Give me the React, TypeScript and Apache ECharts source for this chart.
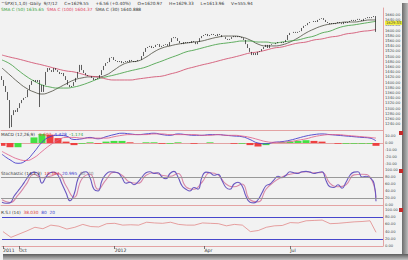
import { useEffect, useRef } from 'react';
import * as echarts from 'echarts';

// ---- price data (closes, one per bar) ----
const closes: number[] = [
  1410, 1387, 1364, 1333, 1229, 1275, 1294, 1287, 1302, 1321,
  1333, 1341, 1344, 1372, 1391, 1406, 1410, 1402, 1410, 1391,
  1364, 1391, 1441, 1456, 1448, 1441, 1456, 1448, 1441, 1433,
  1437, 1425, 1410, 1391, 1383, 1387, 1402, 1418, 1441, 1468,
  1448, 1437, 1429, 1425, 1425, 1418, 1410, 1414, 1418, 1429,
  1448, 1464, 1475, 1479, 1495, 1498, 1487, 1483, 1479, 1483,
  1475, 1479, 1483, 1479, 1487, 1483, 1479, 1483, 1487, 1487,
  1502, 1518, 1533, 1537, 1541, 1533, 1537, 1545, 1548, 1537,
  1541, 1545, 1548, 1541, 1556, 1571, 1575, 1571, 1560, 1552,
  1548, 1556, 1552, 1556, 1552, 1560, 1556, 1548, 1556, 1571,
  1579, 1583, 1587, 1579, 1583, 1587, 1583, 1579, 1587, 1583,
  1575, 1575, 1568, 1564, 1568, 1575, 1579, 1575, 1579, 1575,
  1571, 1564, 1548, 1533, 1518, 1506, 1514, 1506, 1518, 1521,
  1529, 1537, 1545, 1533, 1545, 1548, 1548, 1552, 1556, 1556,
  1552, 1556, 1564, 1583, 1591, 1591, 1595, 1591, 1595, 1598,
  1610, 1618, 1621, 1629, 1633, 1633, 1637, 1633, 1641, 1645,
  1648, 1641, 1633, 1629, 1625, 1629, 1625, 1629, 1633, 1629,
  1625, 1633, 1629, 1633, 1637, 1641, 1637, 1641, 1645, 1641,
  1637, 1645, 1648, 1652, 1648, 1652, 1656,
  1629.55,
];
const firstOpen = 1425;
// [bar index, low, high] for bars with visible wicks
const wicks: [number, number, number][] = [
  [4, 1225, 1333],
  [19, 1306, 1410],
  [187, 1595, 1656],
];
const lastClose = 1629.55;

// ---- moving averages (one value every 4 bars, last one on the last bar) ----
const smaFast = [
  1456, 1429, 1402, 1379, 1364, 1356, 1364, 1379, 1395, 1410,
  1418, 1422, 1422, 1429, 1448, 1468, 1479, 1483, 1498, 1518,
  1533, 1541, 1548, 1552, 1556, 1560, 1568, 1575, 1579, 1579,
  1575, 1564, 1548, 1541, 1541, 1545, 1556, 1572, 1591, 1606,
  1618, 1625, 1629, 1633, 1633, 1637, 1641, 1640.89,
];
const smaMid = [
  1487, 1472, 1448, 1425, 1406, 1391, 1383, 1379, 1379, 1383,
  1391, 1402, 1414, 1422, 1429, 1437, 1445, 1452, 1460, 1472,
  1483, 1495, 1506, 1518, 1525, 1533, 1541, 1548, 1552, 1556,
  1560, 1560, 1556, 1556, 1552, 1556, 1560, 1564, 1572, 1579,
  1591, 1598, 1610, 1618, 1622, 1627, 1632, 1635.65,
];
const smaSlow = [
  1506, 1498, 1491, 1483, 1475, 1468, 1460, 1452, 1445, 1441,
  1433, 1425, 1422, 1414, 1410, 1410, 1410, 1414, 1418, 1422,
  1425, 1433, 1441, 1452, 1460, 1468, 1475, 1483, 1491, 1498,
  1506, 1514, 1518, 1525, 1533, 1537, 1545, 1552, 1556, 1564,
  1568, 1575, 1579, 1587, 1591, 1597, 1600, 1604.37,
];

// ---- MACD (one value every 4 bars) ----
const macdLine = [
  -16, -24, -29, -25, -13, 1, 9, 11, 10, 5,
  6, 8, 6, 9, 12, 14, 13, 12, 13, 14,
  12, 11, 13, 12, 11, 11, 12, 12, 11, 10,
  9, 5, 0, -1, 1, 2, 4, 7, 10, 12,
  13, 12, 11, 10, 9, 8, 7, 3,
];
const macdSignal = [
  -12, -18, -23, -25, -21, -12, -3, 4, 8, 8,
  7, 7, 7, 7, 9, 11, 12, 12, 12, 13,
  13, 12, 12, 12, 12, 11, 11, 12, 11, 11,
  10, 8, 5, 2, 1, 1, 2, 4, 6, 9,
  11, 12, 12, 11, 10, 9, 8, 7,
];

// ---- Stochastic %K (every 2 bars) and %D (every 4 bars) ----
const stochK = [
  8, 5, 6, 25, 40, 55, 72, 88, 94, 90,
  62, 80, 92, 94, 85, 60, 35, 12, 30, 75,
  92, 95, 78, 45, 40, 70, 88, 95, 94, 92,
  78, 62, 65, 58, 66, 80, 92, 95, 90, 92,
  80, 75, 90, 96, 80, 55, 45, 40, 50, 45,
  80, 94, 92, 85, 88, 70, 50, 45, 60, 65,
  55, 25, 8, 6, 15, 35, 55, 60, 72, 82,
  78, 85, 95, 92, 90, 95, 96, 94, 90, 93,
  95, 70, 52, 50, 58, 48, 65, 85, 94, 95,
  80, 82, 78, 62, 10.39,
];
const stochD = [
  15, 7, 28, 58, 88, 78, 82, 90, 55, 22,
  75, 88, 45, 72, 94, 85, 65, 62, 85, 92,
  85, 82, 90, 52, 45, 65, 92, 86, 60, 52,
  60, 15, 9, 45, 66, 80, 88, 92, 95, 92,
  93, 62, 52, 58, 86, 88, 80, 21,
];

// ---- RSI (every 4 bars) ----
const rsi = [
  40, 24, 33, 42, 52, 48, 58, 55, 47, 52,
  60, 54, 53, 62, 63, 58, 59, 58, 66, 64,
  63, 66, 60, 58, 58, 64, 63, 62, 56, 60,
  58, 40, 43, 52, 56, 57, 65, 64, 70, 71,
  72, 62, 63, 65, 67, 68, 70, 38.03,
];

// ---- axis ticks / labels ----
const priceTicks = [
  1240, 1260, 1280, 1300, 1320, 1340, 1360, 1380, 1400, 1420, 1440,
  1460, 1480, 1500, 1520, 1540, 1560, 1580, 1600, 1620, 1640, 1660,
];
const macdTicks = [-30, -20, -10, 0, 10];
const oscTicks = [0, 20, 40, 60, 80, 100];
const xTickLabels: [number, string][] = [
  [0, '2011'], [8, 'Oct'], [56, '2012'], [101, 'Apr'], [144, 'Jul'],
];
const categoryCount = 191;

const FONT = 'DejaVu Sans';
const AXIS_PINK = '#e3a3a3';

export default function App() {
  const ref = useRef<HTMLDivElement>(null);

  useEffect(() => {
    if (!ref.current) return;
    const chart = echarts.init(ref.current, undefined, { renderer: 'svg' });
    const N = closes.length;
    const categories = Array.from({ length: categoryCount }, (_, i) => String(i));
    const sampleIdx = (len: number, step: number) =>
      Array.from({ length: len }, (_, k) => (k === len - 1 ? N - 1 : k * step));

    const candles = closes.map((c, i) => {
      const o = i === 0 ? firstOpen : closes[i - 1];
      let lo = Math.min(o, c);
      let hi = Math.max(o, c);
      const w = wicks.find((x) => x[0] === i);
      if (w) { lo = w[1]; hi = w[2]; }
      return [o, c, lo, hi];
    });

    const idx4 = sampleIdx(smaFast.length, 4);
    const pair = (arr: number[], idx: number[]) => arr.map((v, k) => [idx[k], v]);
    const hist = macdLine.map((m, k) => m - macdSignal[k]);
    const histData = hist.map((h, k) => ({
      value: [idx4[k], h],
      itemStyle: { color: k > 0 && h >= hist[k - 1] ? '#44e044' : '#ee4040' },
    }));
    const idxK = sampleIdx(stochK.length, 2);
    const labelMap = new Map<number, string>(xTickLabels);

    const grids = [
      { left: 1, right: 25, top: 8, height: 122 },
      { left: 1, right: 25, top: 130, height: 38 },
      { left: 1, right: 25, top: 168, height: 39 },
      { left: 1, right: 25, top: 207, height: 39 },
    ];

    const xAxes = grids.map((_, g) => ({
      type: 'category' as const,
      gridIndex: g,
      data: categories,
      boundaryGap: true,
      axisLine: { show: true, lineStyle: { color: AXIS_PINK, width: 1 } },
      axisTick: g === 3
        ? { show: true, interval: (i: number) => labelMap.has(i), alignWithLabel: true, length: 3, lineStyle: { color: '#555', width: 0.8 } }
        : { show: false },
      axisLabel: g === 3
        ? {
            show: true,
            interval: (i: number) => labelMap.has(i),
            formatter: (_v: string, i: number) => labelMap.get(i) ?? '',
            align: 'left' as const,
            fontSize: 4.6,
            fontFamily: FONT,
            color: '#333',
            margin: 2,
          }
        : { show: false },
      splitLine: { show: false },
    }));

    const yLabel = (vals: number[]) => ({
      customValues: vals,
      formatter: (v: number) => v.toFixed(2),
      fontSize: 3.7,
      fontFamily: FONT,
      color: '#3c4a4a',
      margin: 2,
    });
    const yBase = {
      type: 'value' as const,
      position: 'right' as const,
      axisLine: { show: true, lineStyle: { color: AXIS_PINK, width: 1 } },
      axisTick: { show: false },
      splitLine: { show: false },
    };

    const yAxes = [
      { ...yBase, gridIndex: 0, min: 1217.7, max: 1686.9, axisLabel: yLabel(priceTicks) },
      {
        ...yBase, gridIndex: 0, min: 1217.7, max: 1686.9, z: 5,
        axisLine: { show: false },
        axisLabel: { ...yLabel([lastClose]), backgroundColor: '#f4f13a', padding: [0, 1, 0, 1], color: '#444' },
      },
      { ...yBase, gridIndex: 1, min: -35.7, max: 18.6, axisLabel: yLabel(macdTicks) },
      { ...yBase, gridIndex: 2, min: -5.7, max: 105.7, axisLabel: yLabel(oscTicks) },
      { ...yBase, gridIndex: 3, min: 0, max: 108.3, axisLabel: yLabel(oscTicks) },
    ];

    const maLine = (name: string, data: number[], color: string) => ({
      type: 'line' as const,
      name,
      xAxisIndex: 0,
      yAxisIndex: 0,
      data: pair(data, idx4),
      smooth: true,
      showSymbol: false,
      lineStyle: { color, width: 0.8 },
      z: 3,
    });

    const levelLines = (color: string, width: number) => ({
      silent: true,
      symbol: 'none',
      label: { show: false },
      lineStyle: { color, width, type: 'solid' as const },
      data: [{ yAxis: 80 }, { yAxis: 20 }],
    });

    const rich = (parts: [string, string][]) => {
      const richStyles: Record<string, any> = {};
      const text = parts
        .map(([t, c], k) => {
          richStyles['p' + k] = { fill: c, fontSize: 4.3, fontFamily: FONT };
          return `{p${k}|${t}}`;
        })
        .join('');
      return { text, rich: richStyles };
    };

    const textEl = (left: number, top: number, parts: [string, string][]) => ({
      type: 'text' as const,
      left,
      top,
      z: 100,
      style: { ...rich(parts), fontSize: 4.3, fontFamily: FONT },
    });

    chart.setOption({
      animation: false,
      backgroundColor: '#f2f2f2',
      grid: grids,
      xAxis: xAxes,
      yAxis: yAxes,
      series: [
        {
          type: 'candlestick',
          name: 'Price',
          xAxisIndex: 0,
          yAxisIndex: 0,
          data: candles,
          barWidth: 1,
          itemStyle: {
            color: '#1c1c1c', color0: '#1c1c1c',
            borderColor: '#1c1c1c', borderColor0: '#1c1c1c', borderWidth: 0.7,
          },
          z: 4,
        },
        maLine('SMA 30', smaFast, '#4d4d40'),
        maLine('SMA 50', smaMid, '#3c9c3c'),
        maLine('SMA 100', smaSlow, '#cf4566'),
        {
          type: 'bar',
          name: 'Hist',
          xAxisIndex: 1,
          yAxisIndex: 2,
          data: histData,
          barWidth: 7,
        },
        {
          type: 'line', name: 'MACD', xAxisIndex: 1, yAxisIndex: 2,
          data: pair(macdLine, idx4), smooth: true, showSymbol: false,
          lineStyle: { color: '#4a3fcc', width: 0.9 },
        },
        {
          type: 'line', name: 'Signal', xAxisIndex: 1, yAxisIndex: 2,
          data: pair(macdSignal, idx4), smooth: true, showSymbol: false,
          lineStyle: { color: '#e05a86', width: 0.8 },
        },
        {
          type: 'line', name: '%D', xAxisIndex: 2, yAxisIndex: 3,
          data: pair(stochD, idx4), smooth: true, showSymbol: false,
          lineStyle: { color: '#d888a8', width: 1.1 },
          markLine: levelLines('#8e8e8e', 0.9),
        },
        {
          type: 'line', name: '%K', xAxisIndex: 2, yAxisIndex: 3,
          data: pair(stochK, idxK), smooth: true, showSymbol: false,
          lineStyle: { color: '#6a58c0', width: 1.1 },
        },
        {
          type: 'line', name: 'RSI', xAxisIndex: 3, yAxisIndex: 4,
          data: pair(rsi, idx4), smooth: false, showSymbol: false,
          lineStyle: { color: '#e07a7a', width: 0.7 },
          markLine: levelLines('#4646cc', 1),
        },
      ],
      graphic: [
        textEl(1, 1, [['^SPX(1,1,0) -Daily  9/7/12     C=1629.55     +6.56 (+0.40%)     O=1620.97     H=1629.33     L=1613.96     V=555.94', '#333333']]),
        textEl(1, 7, [
          ['SMA C (50) 1635.65  ', '#36a036'],
          ['SMA C (100) 1604.37  ', '#e03a5a'],
          ['SMA C (30) 1640.888', '#333333'],
        ]),
        textEl(1, 132, [
          ['MACD (12,26,9)  ', '#333333'],
          ['-5.602  ', '#e03a3a'],
          ['4.428  ', '#3a3acc'],
          ['-1.174', '#36a036'],
        ]),
        textEl(1, 171, [
          ['Stochastic (14,3,3)  ', '#333333'],
          ['10.394  ', '#e03a3a'],
          ['20.995  ', '#3a3acc'],
          ['80  20', '#888888'],
        ]),
        textEl(1, 210, [
          ['R.S.I (14)  ', '#333333'],
          ['38.030  ', '#e03a3a'],
          ['80  20', '#3a3acc'],
        ]),
        { type: 'rect', left: 399, top: 131, shape: { width: 4, height: 4 }, style: { fill: '#c42a2a' }, z: 100 },
        { type: 'rect', left: 399, top: 169, shape: { width: 4, height: 4 }, style: { fill: '#c42a2a' }, z: 100 },
        { type: 'rect', left: 399, top: 208, shape: { width: 4, height: 4 }, style: { fill: '#c42a2a' }, z: 100 },
        {
          type: 'rect', left: 402, top: 3, z: 90,
          shape: { width: 6, height: 257 },
          style: {
            fill: new echarts.graphic.LinearGradient(0, 0, 1, 0, [
              { offset: 0, color: '#6c6c6c' },
              { offset: 1, color: '#bdbdbd' },
            ]),
          },
        },
        {
          type: 'rect', left: 3, top: 254, z: 90,
          shape: { width: 405, height: 6 },
          style: {
            fill: new echarts.graphic.LinearGradient(0, 0, 0, 1, [
              { offset: 0, color: '#5c5c5c' },
              { offset: 1, color: '#c4c4c4' },
            ]),
          },
        },
      ],
    });

    return () => chart.dispose();
  }, []);

  return (
    <div
      ref={ref}
      style={{ position: 'fixed', left: 0, top: 0, width: 408, height: 260 }}
    />
  );
}
